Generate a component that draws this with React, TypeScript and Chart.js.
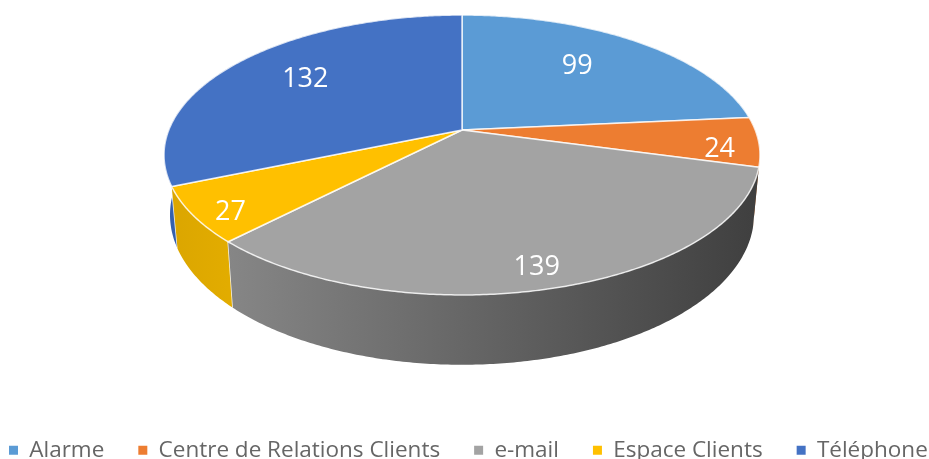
import React, { useEffect, useRef } from "react";
import { Chart, registerables } from "chart.js";

Chart.register(...registerables);

const categories = ["Alarme", "Centre de Relations Clients", "e-mail", "Espace Clients", "Téléphone"];
const values = [99, 24, 139, 27, 132];
const faceColors = ["#5b9bd5", "#ed7d31", "#a3a3a3", "#ffc000", "#4472c4"];
const wallColors = [
  ["#4a85bd", "#4a85bd"],
  ["#b85f20", "#b85f20"],
  ["#868686", "#3f3f3f"],
  ["#dba600", "#e2ac00"],
  ["#3560ad", "#3560ad"],
];
// label anchor: fraction of radius on the slice's mid angle, then a nudge in px
const labelRadius = [0.65, 0.87, 0.88, 0.88, 0.68];
const labelNudge = [[-3, -4], [0, 9], [-6, 2], [2, 8], [-1, -3]];

// Perspective projection of the unit disc: apex, scale and foreshortening.
const TILT = 0.1786;
const TOP = { x: 462, y: 130, a: 293.2, b: 135.5 };
const BOTTOM = { x: 462, y: 188, a: 287.3, b: 145.2 };

function project(p: typeof TOP, angle: number, r = 1) {
  const u = Math.cos(angle) * r;
  const v = Math.sin(angle) * r;
  const d = 1 - TILT * v;
  return { x: p.x + (p.a * u) / d, y: p.y + (p.b * v) / d };
}

function arcPoints(p: typeof TOP, a0: number, a1: number) {
  const n = Math.max(2, Math.ceil(Math.abs(a1 - a0) / 0.01));
  const pts = [];
  for (let i = 0; i <= n; i++) pts.push(project(p, a0 + ((a1 - a0) * i) / n));
  return pts;
}

const pie3d = {
  id: "pie3d",
  beforeLayout(chart: any) {
    // keep the legend on one row, as wide as the reference's
    const legend = chart.legend;
    if (!legend.__oneRow) {
      const fitRows = legend._fitRows;
      legend._fitRows = function (titleHeight: number, fontSize: number, boxWidth: number, itemHeight: number) {
        const saved = this.maxWidth;
        this.maxWidth = 4000;
        const res = fitRows.call(this, titleHeight, fontSize, boxWidth, itemHeight);
        this.maxWidth = saved;
        return res;
      };
      legend.__oneRow = true;
    }
  },
  afterLayout(chart: any) {
    const legend = chart.legend;
    legend.top = 405;
    legend.left = 9 - 34;
    legend.right = 4000;
  },
  beforeDatasetsDraw(chart: any) {
    const ctx = chart.ctx as CanvasRenderingContext2D;
    const arcs = chart.getDatasetMeta(0).data as any[];
    const mid = (e: any) => (e.startAngle + e.endAngle) / 2;
    const order = arcs.map((_, i) => i).sort((i, j) => Math.sin(mid(arcs[i])) - Math.sin(mid(arcs[j])));

    ctx.save();
    ctx.lineJoin = "round";
    // side walls, back to front
    for (const i of order) {
      const e = arcs[i];
      const top = arcPoints(TOP, e.startAngle, e.endAngle);
      const bot = arcPoints(BOTTOM, e.endAngle, e.startAngle);
      const g = ctx.createLinearGradient(Math.min(...top.map((q) => q.x)), 0, Math.max(...top.map((q) => q.x)), 0);
      g.addColorStop(0, wallColors[i][0]);
      g.addColorStop(1, wallColors[i][1]);
      ctx.beginPath();
      [...top, ...bot].forEach((q, k) => (k ? ctx.lineTo(q.x, q.y) : ctx.moveTo(q.x, q.y)));
      ctx.closePath();
      ctx.fillStyle = g;
      ctx.fill();
      const s = project(TOP, e.startAngle);
      const b = project(BOTTOM, e.startAngle);
      if (Math.sin(e.startAngle) > 0.3) {
        ctx.beginPath();
        ctx.moveTo(s.x, s.y);
        ctx.lineTo(b.x, b.y);
        ctx.strokeStyle = "rgba(255,255,255,0.85)";
        ctx.lineWidth = 1.5;
        ctx.stroke();
      }
    }
    // top faces
    arcs.forEach((e, i) => {
      const pts = arcPoints(TOP, e.startAngle, e.endAngle);
      ctx.beginPath();
      ctx.moveTo(TOP.x, TOP.y);
      pts.forEach((q) => ctx.lineTo(q.x, q.y));
      ctx.closePath();
      ctx.fillStyle = faceColors[i];
      ctx.fill();
      ctx.strokeStyle = "rgba(255,255,255,0.8)";
      ctx.lineWidth = 1.5;
      ctx.stroke();
    });
    // value labels
    ctx.fillStyle = "#ffffff";
    ctx.font = '500 27px "Open Sans"';
    ctx.textAlign = "center";
    ctx.textBaseline = "middle";
    arcs.forEach((e, i) => {
      const q = project(TOP, mid(e), labelRadius[i]);
      ctx.fillText(String(values[i]), q.x + labelNudge[i][0], q.y + labelNudge[i][1]);
    });
    ctx.restore();
    return false;
  },
};

export default function App() {
  const ref = useRef<HTMLCanvasElement>(null);
  useEffect(() => {
    const chart = new Chart(ref.current!, {
      type: "pie",
      data: {
        labels: categories,
        datasets: [{ data: values, backgroundColor: faceColors, borderWidth: 0 }],
      },
      options: {
        responsive: false,
        animation: false,
        layout: { padding: 0 },
        plugins: {
          tooltip: { enabled: false },
          legend: {
            position: "bottom",
            align: "start",
            labels: {
              usePointStyle: true,
              pointStyle: "rect",
              boxWidth: 9,
              boxHeight: 9,
              padding: 34,
              color: "#666666",
              font: { family: '"Open Sans"', size: 22.5 },
            },
          },
        },
      },
      plugins: [pie3d],
    });
    return () => chart.destroy();
  }, []);
  return (
    <div style={{ position: "absolute", left: 0, top: 0, width: 929, height: 459, background: "#fff" }}>
      <canvas ref={ref} width={929} height={459} style={{ display: "block" }} />
    </div>
  );
}
